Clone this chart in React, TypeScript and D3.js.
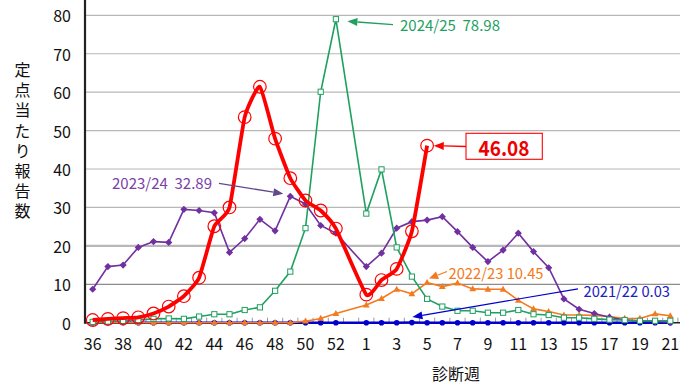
import React from 'react';
import * as d3 from 'd3';

// ---- data ----
const weeks: number[] = [36, 37, 38, 39, 40, 41, 42, 43, 44, 45, 46, 47, 48, 49, 50, 51, 52, 53,
  1, 2, 3, 4, 5, 6, 7, 8, 9, 10, 11, 12, 13, 14, 15, 16, 17, 18, 19, 20, 21];

const yTickValues: number[] = [0, 10, 20, 30, 40, 50, 60, 70, 80];

const s2021_22: (number | null)[] = [0, 0, 0, 0, 0, 0, 0, 0, 0, 0, 0, 0, 0, 0, 0, 0, 0, null,
  0, 0, 0, 0.03, 0, 0, 0, 0, 0, 0, 0, 0, 0, 0, 0, 0, 0, 0, 0, 0, 0];

const s2022_23: (number | null)[] = [0, 0, 0, 0, 0, 0, 0, 0, 0, 0, 0, 0, 0, 0, 0.4, 1.1, 2.4, null,
  4.6, 6.3, 8.7, 7.5, 10.45, 9.4, 10.3, 8.8, 8.7, 8.7, 5.8, 3.6, 2.9, 2.0, 2.0, 1.9, 1.6, 1.1, 1.1, 2.3, 1.8];

const s2023_24: (number | null)[] = [8.7, 14.6, 15.0, 19.6, 21.1, 20.9, 29.5, 29.2, 28.6, 18.3, 21.9, 26.9, 23.9, 32.89, 30.9, 25.3, 23.3, null,
  14.6, 18.1, 24.6, 26.3, 26.7, 27.6, 23.7, 19.6, 15.9, 18.9, 23.3, 18.5, 14.3, 6.2, 3.5, 2.4, 1.4, 0.7, 0.4, 0.3, 0.1];

const s2024_25: (number | null)[] = [0.2, 0.3, 0.5, 0.7, 1.0, 1.1, 1.0, 1.6, 2.2, 2.2, 3.3, 4.0, 8.3, 13.3, 24.6, 60.1, 78.98, null,
  28.4, 39.9, 19.6, 12.0, 6.2, 4.2, 3.1, 3.1, 2.6, 2.6, 3.3, 2.2, 2.0, 1.3, 1.3, 1.0, 0.8, 0.7, 0.5, 0.5, 0.5];

const s2025_26: (number | null)[] = [0.7, 1.0, 1.2, 1.4, 2.4, 4.2, 6.9, 11.7, 25.1, 30.0, 53.5, 61.4, 47.9, 37.6, 31.8, 29.2, 24.5, null,
  7.3, 11.1, 14.0, 23.8, 46.08];

const JP = '"Noto Sans CJK JP", "Noto Sans", sans-serif';

const W = 680;
const H = 386;

const x = d3.scaleLinear().domain([0, weeks.length - 1]).range([92.7, 670.3]);
const y = d3.scaleLinear().domain([0, 80]).range([322.7, 15.3]);

type Pt = [number, number];
const pts = (vals: (number | null)[]): Pt[] =>
  vals.map((v, i) => [i, v] as [number, number | null]).filter((d) => d[1] != null) as Pt[];

const straight = d3.line<Pt>().x((d) => x(d[0])).y((d) => y(d[1]));
const smooth = d3.line<Pt>().x((d) => x(d[0])).y((d) => y(d[1])).curve(d3.curveCardinal.tension(0.55));

function Arrow({ x1, y1, x2, y2, color, w = 1.3, head = 10, hw = 4 }: any) {
  const ang = Math.atan2(y2 - y1, x2 - x1);
  const bx = x2 - head * Math.cos(ang);
  const by = y2 - head * Math.sin(ang);
  const px = -Math.sin(ang) * hw;
  const py = Math.cos(ang) * hw;
  return (
    <g>
      <line x1={x1} y1={y1} x2={bx} y2={by} stroke={color} strokeWidth={w} />
      <polygon points={`${x2},${y2} ${bx + px},${by + py} ${bx - px},${by - py}`} fill={color} />
    </g>
  );
}

export default function App() {
  const ix = (w: number) => weeks.indexOf(w);

  const blueColor = '#0000cc';
  const orangeColor = '#f47a20';
  const purpleColor = '#7030a0';
  const greenColor = '#1ea060';
  const redColor = '#ff0000';

  const gP: Pt = [ix(52), 78.98];
  const pP: Pt = [ix(49), 32.89];
  const oP: Pt = [ix(5), 10.45];
  const bP: Pt = [ix(4), 0.03];
  const rP: Pt = [ix(5), 46.08];

  const nb = '\u00a0';

  return (
    <svg width={W} height={H} style={{ position: 'absolute', left: 0, top: 0, background: '#fff' }}>
      <rect x={0} y={0} width={W} height={H} fill="#fff" />
      {/* gridlines */}
      {yTickValues.filter((v) => v > 0).map((v) => (
        <line key={v} x1={85} x2={W} y1={y(v)} y2={y(v)}
          stroke={v === 10 ? '#8c8c8c' : '#b8b8b8'} strokeWidth={v === 20 ? 2.2 : 1.2} />
      ))}
      {/* x axis ticks (category boundaries) */}
      {weeks.map((w, i) => (
        <line key={'t' + i} x1={x(i) + 7.6} x2={x(i) + 7.6} y1={y(0) - 5} y2={y(0)} stroke="#9a9a9a" strokeWidth={1} />
      ))}
      {/* axes */}
      <line x1={85} x2={85} y1={0} y2={y(0) + 1} stroke="#222" strokeWidth={2.2} />
      <line x1={85} x2={W} y1={y(0)} y2={y(0)} stroke="#222" strokeWidth={1.5} />

      {/* y tick labels */}
      {yTickValues.map((v) => (
        <text key={'yl' + v} x={71} y={y(v)} textAnchor="end" dominantBaseline="central"
          fontFamily={JP} fontSize={16} fill="#111">{v}</text>
      ))}
      {/* x tick labels */}
      {weeks.map((w, i) => i % 2 === 0 ? (
        <text key={'xl' + i} x={x(i)} y={343} textAnchor="middle" dominantBaseline="central"
          fontFamily={JP} fontSize={16} fill="#111">{w}</text>
      ) : null)}

      {/* axis titles */}
      <text x={22.5} y={62} fontFamily={JP} fontSize={16} fill="#111"
        style={{ writingMode: 'vertical-rl', letterSpacing: '4.2px' }}>定点当たり報告数</text>
      <text x={432} y={373} dominantBaseline="central" fontFamily={JP} fontSize={16} fill="#111">診断週</text>

      {/* 2021/22 blue */}
      <path d={straight(pts(s2021_22)) || ''} fill="none" stroke={blueColor} strokeWidth={2.5} />
      {pts(s2021_22).map((d, i) => (
        <circle key={'b' + i} cx={x(d[0])} cy={y(d[1])} r={2.8} fill={blueColor} />
      ))}

      {/* 2022/23 orange */}
      <path d={straight(pts(s2022_23)) || ''} fill="none" stroke={orangeColor} strokeWidth={1.6} />
      {pts(s2022_23).map((d, i) => {
        const cx = x(d[0]);
        const cy = y(d[1]);
        return <polygon key={'o' + i} points={`${cx},${cy - 3.6} ${cx + 3.4},${cy + 2.4} ${cx - 3.4},${cy + 2.4}`} fill={orangeColor} />;
      })}

      {/* 2023/24 purple */}
      <path d={straight(pts(s2023_24)) || ''} fill="none" stroke={purpleColor} strokeWidth={1.6} />
      {pts(s2023_24).map((d, i) => {
        const cx = x(d[0]);
        const cy = y(d[1]);
        return <polygon key={'p' + i} points={`${cx},${cy - 3.6} ${cx + 3.6},${cy} ${cx},${cy + 3.6} ${cx - 3.6},${cy}`} fill={purpleColor} />;
      })}

      {/* 2024/25 green */}
      <path d={straight(pts(s2024_25)) || ''} fill="none" stroke={greenColor} strokeWidth={1.6} />
      {pts(s2024_25).map((d, i) => (
        <rect key={'g' + i} x={x(d[0]) - 2.6} y={y(d[1]) - 2.6} width={5.2} height={5.2} fill="#fff" stroke={greenColor} strokeWidth={1} />
      ))}

      {/* 2025/26 red */}
      <path d={smooth(pts(s2025_26)) || ''} fill="none" stroke={redColor} strokeWidth={3.8} strokeLinejoin="round" />
      {pts(s2025_26).map((d, i) => (
        <circle key={'r' + i} cx={x(d[0])} cy={y(d[1])} r={6.3} fill="none" stroke={redColor} strokeWidth={1.2} />
      ))}

      {/* annotations */}
      <Arrow x1={393} y1={24.7} x2={x(gP[0]) + 11.5} y2={y(gP[1]) + 2} color={greenColor} w={1.3} />
      <text x={400} y={31} fontFamily={JP} fontSize={15} fill={greenColor} textLength={100} lengthAdjust="spacingAndGlyphs">{`2024/25${nb}${nb}78.98`}</text>

      <Arrow x1={219} y1={183.3} x2={x(pP[0]) - 7} y2={y(pP[1]) - 2.5} color="#5e4a8c" w={1.3} />
      <text x={112} y={188.5} fontFamily={JP} fontSize={15} fill="#7a40a8" textLength={100} lengthAdjust="spacingAndGlyphs">{`2023/24${nb}${nb}32.89`}</text>

      <Arrow x1={447} y1={271.5} x2={x(oP[0]) + 2} y2={y(oP[1]) - 4} color={orangeColor} w={1.3} head={9} />
      <text x={448.5} y={279} fontFamily={JP} fontSize={15} fill={orangeColor} textLength={95} lengthAdjust="spacingAndGlyphs">2022/23 10.45</text>

      <Arrow x1={578} y1={288.8} x2={x(bP[0]) + 0.5} y2={y(bP[1]) - 5.5} color={blueColor} w={1.2} head={10} />
      <text x={583.5} y={296.5} fontFamily={JP} fontSize={15} fill="#2020c0" textLength={86.5} lengthAdjust="spacingAndGlyphs">2021/22 0.03</text>

      <Arrow x1={466} y1={146.5} x2={x(rP[0]) + 6.7} y2={y(rP[1])} color={redColor} w={1.3} head={10} />
      <rect x={466} y={133.3} width={76.3} height={26} fill="#fff" stroke={redColor} strokeWidth={1.1} />
      <text x={504} y={146.8} textAnchor="middle" dominantBaseline="central" fontFamily={JP} fontWeight="bold" fontSize={21}
        fill="#ee0000" textLength={51} lengthAdjust="spacingAndGlyphs">46.08</text>
    </svg>
  );
}
